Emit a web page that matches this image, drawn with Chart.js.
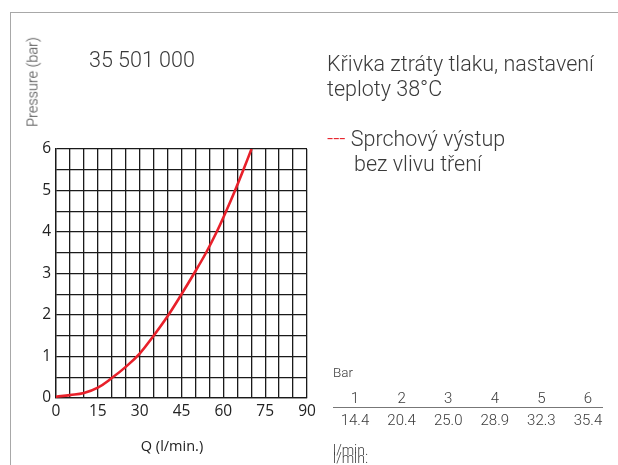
<!DOCTYPE html>
<html>
<head>
<meta charset="utf-8">
<script src="https://cdn.jsdelivr.net/npm/chart.js@4/dist/chart.umd.min.js"></script>
<style>
  html, body { margin: 0; padding: 0; background: #fff; }
  #wrap { position: relative; width: 618px; height: 465px; overflow: hidden; background: #fff; }
  #c { position: absolute; left: 0; top: 0; }
  .frameTop { position: absolute; left: 11px; top: 12px; width: 607px; height: 0; border-top: 1.5px solid #a8a8a8; }
  .frameLeft { position: absolute; left: 10px; top: 12px; width: 0; height: 453px; border-left: 1.5px solid #a8a8a8; }
  .t { position: absolute; white-space: nowrap; font-family: Roboto, "Noto Sans", sans-serif; font-weight: 300; color: #3a3a3a; }
  .ylab { position: absolute; left: 33px; top: 82px; transform: translate(-50%, -50%) rotate(-90deg); white-space: nowrap;
          font-family: Roboto, sans-serif; font-weight: 300; font-size: 14.5px; color: #444; }
  .xlab { position: absolute; left: 172px; top: 445px; transform: translate(-50%, -50%); white-space: nowrap;
          font-family: "Open Sans", "DejaVu Sans", sans-serif; font-size: 14.5px; color: #222; }
  .cell { position: absolute; transform: translate(-50%, -50%); white-space: nowrap;
          font-family: Roboto, sans-serif; font-weight: 300; font-size: 15px; color: #3a3a3a; }
  .rule { position: absolute; left: 333px; top: 407px; width: 270px; height: 0; border-top: 1px solid #777; }
</style>
</head>
<body>
<div id="wrap">
  <canvas id="c" width="618" height="465"></canvas>
  <div class="frameTop"></div>
  <div class="frameLeft"></div>
  <div class="ylab">Pressure (bar)</div>
  <div class="t" style="left:89px; top:47px; font-size:21.5px;">35 501 000</div>
  <div class="t" style="left:327px; top:51px; font-size:21.5px; line-height:25px;">Křivka ztráty tlaku, nastavení<br>teploty 38°C</div>
  <div class="t" style="left:327px; top:126px; font-size:21.5px; line-height:25px;"><span style="color:#e8202a;">---</span> Sprchový výstup<br><span style="padding-left:27px;">bez vlivu tření</span></div>
  <div class="xlab">Q (l/min.)</div>
  <div class="t" style="left:333px; top:364px; font-size:13.5px;">Bar</div>
  <div class="rule"></div>
  <div id="table"></div>
  <div class="t" style="left:333px; top:442px; font-size:14px;">l/min.</div>
  <div class="t" style="left:333px; top:450px; font-size:14px;">l/min.</div>
</div>
<script>
// Curve: flow Q (l/min) and pressure (bar)
const qValues = [0, 5, 10, 15, 20, 25, 30, 35, 40, 45, 49.5, 53.8, 57.6, 61, 64.2, 67.2, 70.1];
const pValues = [0.03, 0.07, 0.12, 0.25, 0.48, 0.75, 1.07, 1.5, 1.97, 2.5, 3.0, 3.5, 4.0, 4.5, 5.0, 5.5, 6.0];
// Tick labels
const xTickLabels = [0, 15, 30, 45, 60, 75, 90];
const yTickLabels = [0, 1, 2, 3, 4, 5, 6];
// Table
const tableBar = [1, 2, 3, 4, 5, 6];
const tableFlow = ['14.4', '20.4', '25.0', '28.9', '32.3', '35.4'];

// build table cells
const tbl = document.getElementById('table');
tableBar.forEach((b, i) => {
  const cx = 355 + i * 46.6;
  const d1 = document.createElement('div');
  d1.className = 'cell'; d1.style.left = cx + 'px'; d1.style.top = '398px'; d1.textContent = b;
  const d2 = document.createElement('div');
  d2.className = 'cell'; d2.style.left = cx + 'px'; d2.style.top = '420px'; d2.textContent = tableFlow[i];
  tbl.appendChild(d1); tbl.appendChild(d2);
});

const points = qValues.map((q, i) => ({ x: q, y: pValues[i] }));

new Chart(document.getElementById('c'), {
  type: 'line',
  data: {
    datasets: [{
      data: points,
      borderColor: '#e8202a',
      borderWidth: 2.6,
      pointRadius: 0,
      tension: 0.4,
      fill: false
    }]
  },
  options: {
    responsive: false,
    animation: false,
    events: [],
    layout: { padding: { left: 0, right: 311, top: 149, bottom: 0 } },
    plugins: { legend: { display: false }, tooltip: { enabled: false } },
    scales: {
      x: {
        type: 'linear', min: 0, max: 90,
        afterFit: s => { s.height = 67; },
        grid: { color: '#1a1a1a', lineWidth: 1.3, drawTicks: false },
        border: { color: '#1a1a1a', width: 1.3 },
        ticks: {
          stepSize: 5, autoSkip: false, maxRotation: 0, padding: 4,
          color: '#222', font: { family: '"Open Sans", "DejaVu Sans", sans-serif', size: 15.5 },
          callback: v => xTickLabels.includes(v) ? String(v) : ''
        }
      },
      y: {
        min: 0, max: 6,
        afterFit: s => { s.width = 56; },
        grid: { color: '#1a1a1a', lineWidth: 1.3, drawTicks: false },
        border: { color: '#1a1a1a', width: 1.3 },
        ticks: {
          stepSize: 0.5, autoSkip: false, padding: 5,
          color: '#222', font: { family: '"Open Sans", "DejaVu Sans", sans-serif', size: 15.5 },
          callback: v => yTickLabels.includes(v) ? String(v) : ''
        }
      }
    }
  }
});
</script>
</body>
</html>
